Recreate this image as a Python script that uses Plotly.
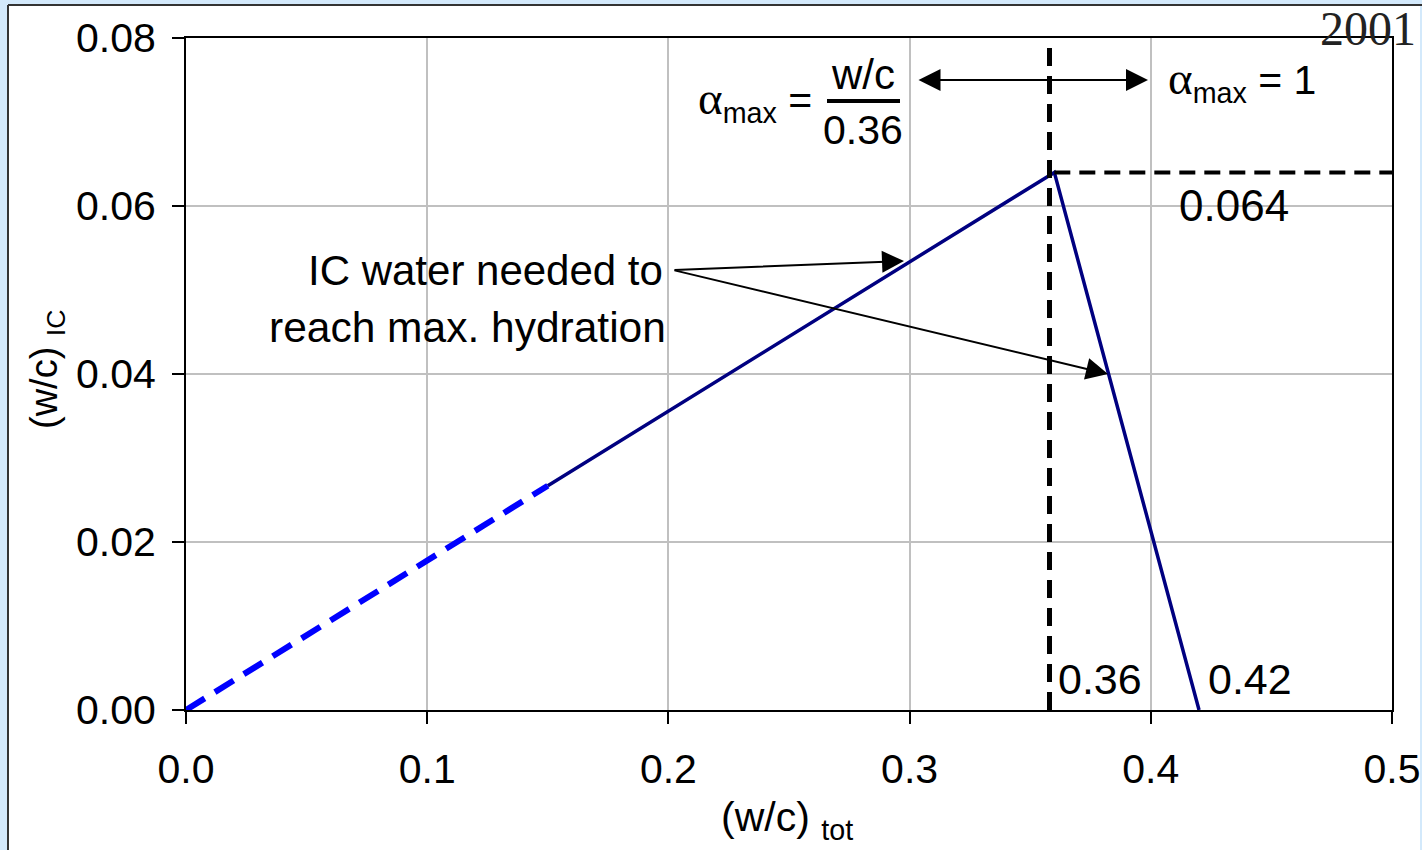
import plotly.graph_objects as go

# ---- data ----
wc_tot_dashed = [0.0, 0.15]
wc_ic_dashed = [0.0, 0.0267]
wc_tot_solid = [0.15, 0.36, 0.42]
wc_ic_solid = [0.0267, 0.064, 0.0]
vline_x = 0.358
hline_y = 0.064
hline_x = [0.36, 0.5]
x_ticks = [0.0, 0.1, 0.2, 0.3, 0.4, 0.5]
x_ticklabels = ["0.0", "0.1", "0.2", "0.3", "0.4", "0.5"]
y_ticks = [0.0, 0.02, 0.04, 0.06, 0.08]
y_ticklabels = ["0.00", "0.02", "0.04", "0.06", "0.08"]

# ---- layout geometry (pixels) ----
W, H = 1422, 850
L, R, T, B = 186, 30, 38, 140
PW, PH = W - L - R, H - T - B


def px(x):
    return (x - L) / PW


def py(y):
    return (H - B - y) / PH


SANS = "Liberation Sans, Arial, sans-serif"
SERIF = "Liberation Serif, Times New Roman, serif"
FS = 42

fig = go.Figure()
fig.add_trace(go.Scatter(x=wc_tot_solid, y=wc_ic_solid, mode="lines",
                         line=dict(color="#000080", width=3.5), showlegend=False,
                         hoverinfo="skip"))
fig.add_trace(go.Scatter(x=wc_tot_dashed, y=wc_ic_dashed, mode="lines",
                         line=dict(color="#0000ff", width=6, dash="22px,12px"),
                         showlegend=False, hoverinfo="skip"))
fig.add_trace(go.Scatter(x=[vline_x, vline_x], y=[0, 0.08], mode="lines",
                         line=dict(color="black", width=5, dash="18px,10px"),
                         showlegend=False, hoverinfo="skip"))
fig.add_trace(go.Scatter(x=hline_x, y=[hline_y, hline_y], mode="lines",
                         line=dict(color="black", width=4, dash="16px,9px"),
                         showlegend=False, hoverinfo="skip"))

shapes = [
    # white panel
    dict(type="rect", xref="paper", yref="paper", x0=px(8), x1=px(1420),
         y0=py(870), y1=py(5), fillcolor="white",
         line=dict(width=0), layer="below"),
    # panel borders (top and left)
    dict(type="line", xref="paper", yref="paper", x0=px(8), x1=px(1425),
         y0=py(5), y1=py(5), line=dict(color="#333333", width=2), layer="below"),
    dict(type="line", xref="paper", yref="paper", x0=px(8), x1=px(8),
         y0=py(5), y1=py(870), line=dict(color="#333333", width=2), layer="below"),
    # fraction bar
    dict(type="line", xref="paper", yref="paper", x0=px(827), x1=px(900),
         y0=py(101), y1=py(101), line=dict(color="black", width=4)),
]

ALPHA = "<span style='font-family:Liberation Serif;font-size:47px'>α</span>"

ann = []
# axis titles
ann.append(dict(xref="paper", yref="paper", x=px(787), y=py(820),
                text="(w/c) <sub>tot</sub>", showarrow=False,
                font=dict(family=SANS, size=41, color="black"),
                xanchor="center", yanchor="middle"))
ann.append(dict(xref="paper", yref="paper", x=px(47), y=py(370),
                text="(w/c) <sub>IC</sub>", showarrow=False, textangle=-90,
                font=dict(family=SANS, size=38, color="black"),
                xanchor="center", yanchor="middle"))
# alpha_max = w/c / 0.36
ann.append(dict(xref="paper", yref="paper", x=px(814), y=py(100),
                text=ALPHA + "<sub>max</sub> =",
                showarrow=False, font=dict(family=SANS, size=41, color="black"),
                xanchor="right", yanchor="middle"))
ann.append(dict(xref="paper", yref="paper", x=px(863), y=py(74),
                text="w/c", showarrow=False,
                font=dict(family=SANS, size=42, color="black"),
                xanchor="center", yanchor="middle"))
ann.append(dict(xref="paper", yref="paper", x=px(863), y=py(130),
                text="0.36", showarrow=False,
                font=dict(family=SANS, size=41, color="black"),
                xanchor="center", yanchor="middle"))
# alpha_max = 1
ann.append(dict(xref="paper", yref="paper", x=px(1166), y=py(80),
                text=ALPHA + "<sub>max</sub> = 1",
                showarrow=False, font=dict(family=SANS, size=41, color="black"),
                xanchor="left", yanchor="middle"))
# double arrow
ann.append(dict(xref="x", yref="y", axref="x", ayref="y",
                x=px(1148) * 0.5, y=0.075, ax=px(917) * 0.5, ay=0.075,
                text="", showarrow=True, arrowhead=2, startarrowhead=2,
                arrowside="end+start", arrowwidth=2, arrowsize=2.2,
                startarrowsize=2.2, arrowcolor="black", standoff=0, startstandoff=0))
# value labels
ann.append(dict(xref="paper", yref="paper", x=px(1177), y=py(205),
                text="0.064", showarrow=False,
                font=dict(family=SANS, size=44, color="black"),
                xanchor="left", yanchor="middle"))
ann.append(dict(xref="paper", yref="paper", x=px(1056), y=py(679),
                text="0.36", showarrow=False,
                font=dict(family=SANS, size=43, color="black"),
                xanchor="left", yanchor="middle"))
ann.append(dict(xref="paper", yref="paper", x=px(1206), y=py(679),
                text="0.42", showarrow=False,
                font=dict(family=SANS, size=43, color="black"),
                xanchor="left", yanchor="middle"))
# IC water text
ann.append(dict(xref="paper", yref="paper", x=px(665), y=py(270),
                text="IC water needed to", showarrow=False,
                font=dict(family=SANS, size=FS, color="black"),
                xanchor="right", yanchor="middle"))
ann.append(dict(xref="paper", yref="paper", x=px(668), y=py(327),
                text="reach max. hydration", showarrow=False,
                font=dict(family=SANS, size=42.5, color="black"),
                xanchor="right", yanchor="middle"))
# arrows from the text
tail_x, tail_y = px(673) * 0.5, py(270) * 0.08
ann.append(dict(xref="x", yref="y", axref="x", ayref="y",
                x=px(904) * 0.5, y=py(261) * 0.08, ax=tail_x, ay=tail_y,
                text="", showarrow=True, arrowhead=2, arrowwidth=2,
                arrowsize=2.2, arrowcolor="black", standoff=0))
ann.append(dict(xref="x", yref="y", axref="x", ayref="y",
                x=px(1108) * 0.5, y=py(374) * 0.08, ax=tail_x, ay=tail_y,
                text="", showarrow=True, arrowhead=2, arrowwidth=2,
                arrowsize=2.2, arrowcolor="black", standoff=0))
# year
ann.append(dict(xref="paper", yref="paper", x=px(1318), y=py(28),
                text="2001", showarrow=False,
                font=dict(family=SERIF, size=48, color="#222222"),
                xanchor="left", yanchor="middle"))

fig.update_layout(
    width=W, height=H,
    margin=dict(l=L, r=R, t=T, b=B, pad=0, autoexpand=False),
    paper_bgcolor="#d3e9fb",
    plot_bgcolor="white",
    shapes=shapes,
    annotations=ann,
    showlegend=False,
    font=dict(family=SANS, color="black"),
)
fig.update_xaxes(range=[0, 0.5], tickvals=x_ticks, ticktext=x_ticklabels,
                 showgrid=True, gridcolor="#c0c0c0", gridwidth=2,
                 showline=True, linecolor="black", linewidth=2, mirror=True,
                 ticks="outside", ticklen=12, tickwidth=2, tickcolor="black",
                 tickfont=dict(family=SANS, size=41, color="black"),
                 ticklabelstandoff=10, automargin=False,
                 ticklabeloverflow="allow",
                 zeroline=False, fixedrange=True)
fig.update_yaxes(range=[0, 0.08], tickvals=y_ticks, ticktext=y_ticklabels,
                 showgrid=True, gridcolor="#c0c0c0", gridwidth=2,
                 showline=True, linecolor="black", linewidth=2, mirror=True,
                 ticks="outside", ticklen=12, tickwidth=2, tickcolor="black",
                 tickfont=dict(family=SANS, size=41, color="black"),
                 ticklabelstandoff=8, automargin=False,
                 zeroline=False, fixedrange=True)

fig.write_html("out.html", config={"displayModeBar": False})
